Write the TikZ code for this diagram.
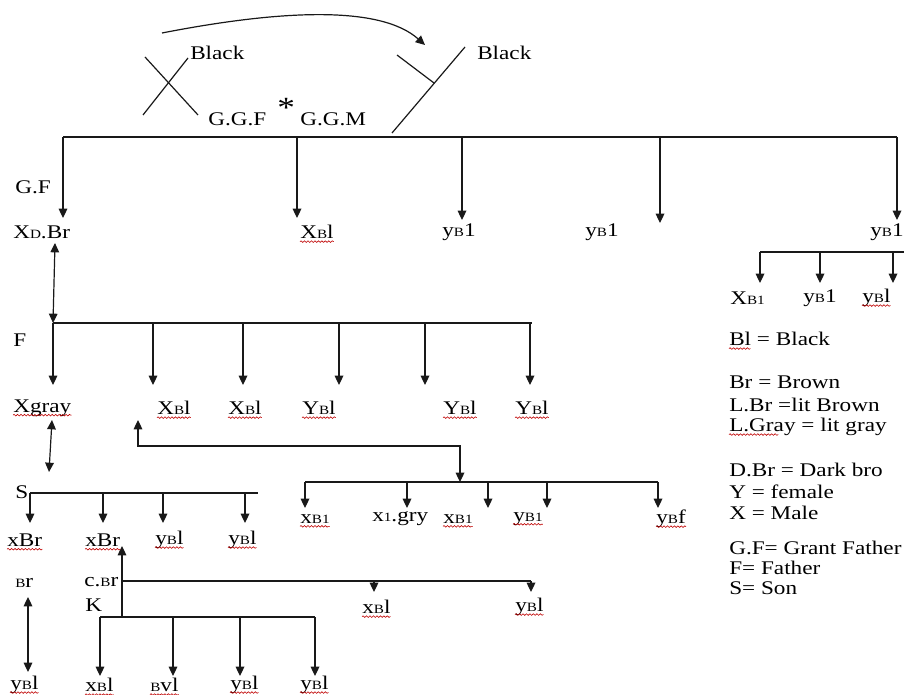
\documentclass[tikz,border=0pt]{standalone}
\usepackage{fontspec}
\setmainfont[FakeStretch=1.2]{Liberation Serif}
\usetikzlibrary{arrows.meta,decorations.pathmorphing}
\newcommand{\lowsm}[1]{{\fontsize{9.5pt}{10pt}\selectfont #1}}
\begin{document}
\begin{tikzpicture}[x=0.75pt,y=-0.75pt,
  ln/.style={line width=0.9pt, draw=black!90},
  arr/.style={ln, -{Triangle[length=7pt,width=6.5pt]}},
  darr/.style={ln, {Triangle[length=7pt,width=6.5pt]}-{Triangle[length=7pt,width=6.5pt]}},
  lbl/.style={inner sep=0pt, anchor=west, font=\fontsize{14.5pt}{16pt}\selectfont},
  sq/.style={draw=red!75!black, line width=0.45pt, decorate, decoration={snake, amplitude=0.6pt, segment length=2.6pt}},
]
\useasboundingbox (0,0) rectangle (904,695);

% ---------- top: great grand parents ----------
\coordinate (x1a) at (145,57); \coordinate (x1b) at (198,115);
\coordinate (x2a) at (143,115); \coordinate (x2b) at (188,58);
\draw[ln] (x1a) -- (x1b); \draw[ln] (x2a) -- (x2b);
\coordinate (y1a) at (465,47); \coordinate (y1b) at (392,133);
\coordinate (y2a) at (397,55); \coordinate (y2b) at (434,83);
\draw[ln] (y1a) -- (y1b); \draw[ln] (y2a) -- (y2b);
\node[lbl] (blackL) at (190,53) {Black};
\node[lbl] (blackR) at (477,53) {Black};
\node[lbl] (ggf) at (208,119) {G.G.F};
\node[inner sep=0pt, anchor=base west, font=\fontsize{22pt}{22pt}\selectfont] (star) at (277,118) {*};
\node[lbl] (ggm) at (300,119) {G.G.M};
\coordinate (cs) at (162,33); \coordinate (ce) at (425,45);
\draw[arr] (cs) .. controls (280,10) and (380,5) .. (ce);

% ---------- main bus ----------
\coordinate (mL) at (63,137); \coordinate (mR) at (897,137);
\draw[ln] (mL) -- (mR);
\foreach \x/\t in {63/218, 297/218, 462/220, 660/223, 897/220}
  \draw[arr] (\x,137) -- (\x,\t);

\node[lbl] (gf) at (15,187) {G.F};
\node[lbl] (xdbr) at (13,232) {X\lowsm{D}.Br};
\node[lbl] (t2) at (300,232) {X\lowsm{B}l};
\node[lbl] (t3) at (442,232) {y\lowsm{B}1};
\node[lbl] (t4) at (585,232) {y\lowsm{B}1};
\node[lbl] (t5) at (870,232) {y\lowsm{B}1};

% ---------- right sub family ----------
\coordinate (rL) at (760,252); \coordinate (rR) at (904,252);
\draw[ln] (rL) -- (rR);
\foreach \x in {760,820,893}
  \draw[arr] (\x,252) -- (\x,283);
\node[lbl] (r1) at (730,298) {X\lowsm{B1}};
\node[lbl] (r2) at (803,298) {y\lowsm{B}1};
\node[lbl] (r3) at (862,298) {y\lowsm{B}l};

% ---------- father generation ----------
\coordinate (gfa) at (55,243); \coordinate (fL) at (53,323); \coordinate (fR) at (532,323);
\draw[darr] (gfa) -- (fL);
\draw[ln] (fL) -- (fR);
\foreach \x in {53,153,243,339,425,530}
  \draw[arr] (\x,323) -- (\x,385);
\node[lbl] (flab) at (13,340) {F};
\node[lbl] (f1) at (13,408) {Xgray};
\node[lbl] (f2) at (157,408) {X\lowsm{B}l};
\node[lbl] (f3) at (228,408) {X\lowsm{B}l};
\node[lbl] (f4) at (302,408) {Y\lowsm{B}l};
\node[lbl] (f5) at (443,408) {Y\lowsm{B}l};
\node[lbl] (f6) at (515,408) {Y\lowsm{B}l};

% ---------- mate of XBl and children ----------
\coordinate (la) at (138,420); \coordinate (lb) at (460,446); \coordinate (lc) at (460,482);
\draw[darr] (la) |- (lb) -- (lc);
\coordinate (gL) at (305,482); \coordinate (gR) at (658,482);
\draw[ln] (gL) -- (gR);
\foreach \x in {305,407,488,547,658}
  \draw[arr] (\x,482) -- (\x,508);
\node[lbl] (g1) at (300,519) {x\lowsm{B1}};
\node[lbl] (g2) at (372,519) {x\lowsm{1}.gry};
\node[lbl] (g3) at (443,519) {x\lowsm{B1}};
\node[lbl] (g4) at (513,519) {y\lowsm{B1}};
\node[lbl] (g5) at (656,519) {y\lowsm{B}f};

% ---------- son generation ----------
\coordinate (xa) at (52,420); \coordinate (xb) at (49,472);
\draw[darr] (xa) -- (xb);
\node[lbl] (slab) at (15,492) {S};
\coordinate (sL) at (30,493); \coordinate (sR) at (258,493);
\draw[ln] (sL) -- (sR);
\foreach \x in {30,103,163,245}
  \draw[arr] (\x,493) -- (\x,523);
\node[lbl] (s1) at (7,540) {xBr};
\node[lbl] (s2) at (85,540) {xBr};
\node[lbl] (s3) at (155,540) {y\lowsm{B}l};
\node[lbl] (s4) at (228,540) {y\lowsm{B}l};

% ---------- lowest generation ----------
\node[lbl] (br) at (15,583) {\lowsm{B}r};
\coordinate (ba) at (28,597); \coordinate (bb) at (28,672);
\draw[darr] (ba) -- (bb);
\node[lbl] (b1) at (10,685) {y\lowsm{B}l};

\node[lbl] (cbr) at (84,582) {c.\lowsm{B}r};
\node[lbl] (klab) at (85,605) {K};
\coordinate (kup) at (122,617); \coordinate (kupt) at (122,546);
\draw[arr] (kup) -- (kupt);
\coordinate (cL) at (122,581); \coordinate (cR) at (531,581);
\draw[ln] (cL) -- (cR);
\foreach \x in {374,531}
  \draw[arr] (\x,581) -- (\x,592);
\node[lbl] (c1) at (362,607) {x\lowsm{B}l};
\node[lbl] (c2) at (515,607) {y\lowsm{B}l};

\coordinate (kL) at (100,617); \coordinate (kR) at (315,617);
\draw[ln] (kL) -- (kR);
\foreach \x in {100,173,240,315}
  \draw[arr] (\x,617) -- (\x,676);
\node[lbl] (k1) at (85,685) {x\lowsm{B}l};
\node[lbl] (k2) at (150,685) {\lowsm{B}vl};
\node[lbl] (k3) at (230,685) {y\lowsm{B}l};
\node[lbl] (k4) at (300,685) {y\lowsm{B}l};

% ---------- legend ----------
\node[lbl] (lg1) at (729,339) {Bl = Black};
\node[lbl] (lg2) at (729,382) {Br = Brown};
\node[lbl] (lg3) at (729,405) {L.Br =lit Brown};
\node[lbl] (lg4) at (729,427) {L.Gray = lit gray};
\node[lbl] (lg5) at (729,470) {D.Br = Dark bro};
\node[lbl] (lg6) at (729,492) {Y = female};
\node[lbl] (lg7) at (729,513) {X = Male};
\node[lbl] (lg8) at (729,548) {G.F= Grant Father};
\node[lbl] (lg9) at (729,568) {F= Father};
\node[lbl] (lg10) at (729,588) {S= Son};

% ---------- spell-check underlines ----------
\foreach \n in {t2,r3,f1,f2,f3,f4,f5,f6,g1,g3,g4,g5,s1,s2,s3,s4,b1,c1,c2,k1,k2,k3,k4}
  \draw[sq] ([yshift=-2.2pt]\n.base west) -- ([yshift=-2.2pt]\n.base east);
\draw[sq] ([yshift=-2.2pt]lg1.base west) -- ++(16pt,0);
\draw[sq] ([yshift=-2.2pt]lg4.base west) -- ++(37pt,0);
\end{tikzpicture}
\end{document}
